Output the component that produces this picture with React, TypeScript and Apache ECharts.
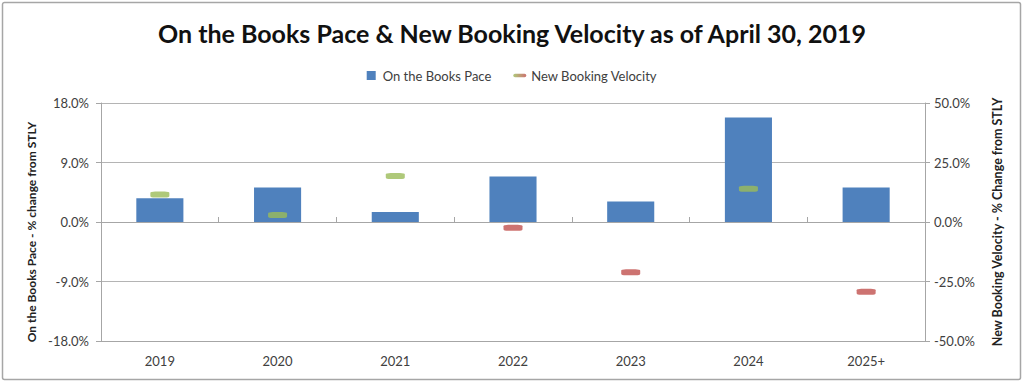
import React, { useEffect, useRef } from "react";
import * as echarts from "echarts";

const categories = ["2019", "2020", "2021", "2022", "2023", "2024", "2025+"];
const booksPace = [3.6, 5.2, 1.5, 6.9, 3.1, 15.8, 5.2];
const bookingVelocity = [11.6, 2.9, 19.3, -2.4, -21.1, 14.0, -29.3];
const leftTicks = { min: -18, max: 18, interval: 9 };
const rightTicks = { min: -50, max: 50, interval: 25 };

const FONT = "Lato, 'Open Sans', sans-serif";
const BLUE = "#4F81BD";
const GREEN = "#9BBB59";
const RED = "#C0504D";

export default function App() {
  const ref = useRef<HTMLDivElement>(null);
  useEffect(() => {
    if (!ref.current) return;
    const chart = echarts.init(ref.current, null, { renderer: "svg" });
    const axisLabel = { color: "#404040", fontSize: 13, fontFamily: FONT };
    chart.setOption({
      animation: false,
      backgroundColor: "#fff",
      textStyle: { fontFamily: FONT },
      title: {
        text: "On the Books Pace & New Booking Velocity as of April 30, 2019",
        left: "center",
        top: 15,
        textStyle: { fontSize: 25, fontWeight: "bold", color: "#111", fontFamily: FONT },
      },
      legend: {
        top: 64,
        left: "center",
        itemGap: 22,
        itemWidth: 13,
        itemHeight: 9,
        textStyle: { fontSize: 13, color: "#404040", fontFamily: FONT },
        data: [
          { name: "On the Books Pace", icon: "path://M2,0 h9 v9 h-9 z", itemStyle: { color: BLUE } },
          {
            name: "New Booking Velocity",
            icon: "path://M1,0 h11 a2,2 0 0 1 0,4 h-11 a2,2 0 0 1 0,-4 z",
            itemStyle: {
              color: new echarts.graphic.LinearGradient(0, 0, 1, 0, [
                { offset: 0, color: GREEN },
                { offset: 1, color: RED },
              ]),
            },
          },
        ],
      },
      graphic: [
        {
          type: "rect",
          shape: { x: 2.5, y: 2.5, width: 1018, height: 377, r: 2 },
          style: { fill: "none", stroke: "#a6a6a6", lineWidth: 1.5 },
          silent: true,
        },
      ],
      grid: { left: 101, right: 99, top: 103, bottom: 41 },
      xAxis: [
        {
          type: "category",
          data: categories,
          position: "bottom",
          axisLine: { show: true, onZero: false, lineStyle: { color: "#a6a6a6" } },
          axisTick: { show: false },
          axisLabel: { ...axisLabel, margin: 13 },
        },
        {
          type: "category",
          data: categories,
          axisLine: { show: true, onZero: true, onZeroAxisIndex: 0, lineStyle: { color: "#a6a6a6" } },
          axisTick: { show: true, length: 5, lineStyle: { color: "#a6a6a6" } },
          axisLabel: { show: false },
        },
      ],
      yAxis: [
        {
          type: "value",
          ...leftTicks,
          position: "left",
          name: "On the Books Pace - % change from STLY",
          nameLocation: "middle",
          nameRotate: 90,
          nameGap: 62,
          nameTextStyle: {
            fontSize: 12,
            fontWeight: "bold",
            color: "#222",
            fontFamily: FONT,
            padding: [0, 20, 0, 0],
          },
          axisLine: { show: true, lineStyle: { color: "#a6a6a6" } },
          axisTick: { show: true, length: 5, lineStyle: { color: "#a6a6a6" } },
          splitLine: { show: true, lineStyle: { color: "#b4b4b4" } },
          axisLabel: { ...axisLabel, margin: 12, formatter: (v: number) => v.toFixed(1) + "%" },
        },
        {
          type: "value",
          ...rightTicks,
          position: "right",
          name: "New Booking Velocity - % Change from STLY",
          nameLocation: "middle",
          nameRotate: 90,
          nameGap: 66,
          nameTextStyle: {
            fontSize: 12.5,
            fontWeight: "bold",
            color: "#222",
            fontFamily: FONT,
          },
          axisLine: { show: true, lineStyle: { color: "#a6a6a6" } },
          axisTick: { show: true, length: 5, lineStyle: { color: "#a6a6a6" } },
          splitLine: { show: false },
          axisLabel: { ...axisLabel, margin: 9, formatter: (v: number) => v.toFixed(1) + "%" },
        },
      ],
      series: [
        {
          name: "On the Books Pace",
          type: "bar",
          xAxisIndex: 0,
          yAxisIndex: 0,
          barWidth: "40%",
          itemStyle: { color: BLUE },
          data: booksPace,
        },
        {
          name: "New Booking Velocity",
          type: "scatter",
          xAxisIndex: 0,
          yAxisIndex: 1,
          symbol: "roundRect",
          symbolSize: [19, 6],
          z: 5,
          itemStyle: { color: GREEN },
          data: bookingVelocity.map((v) => ({
            value: v,
            itemStyle: { color: v >= 0 ? GREEN : RED },
          })),
        },
      ],
    });
    return () => chart.dispose();
  }, []);
  return (
    <div
      ref={ref}
      style={{ position: "fixed", left: 0, top: 0, width: 1024, height: 382 }}
    />
  );
}
